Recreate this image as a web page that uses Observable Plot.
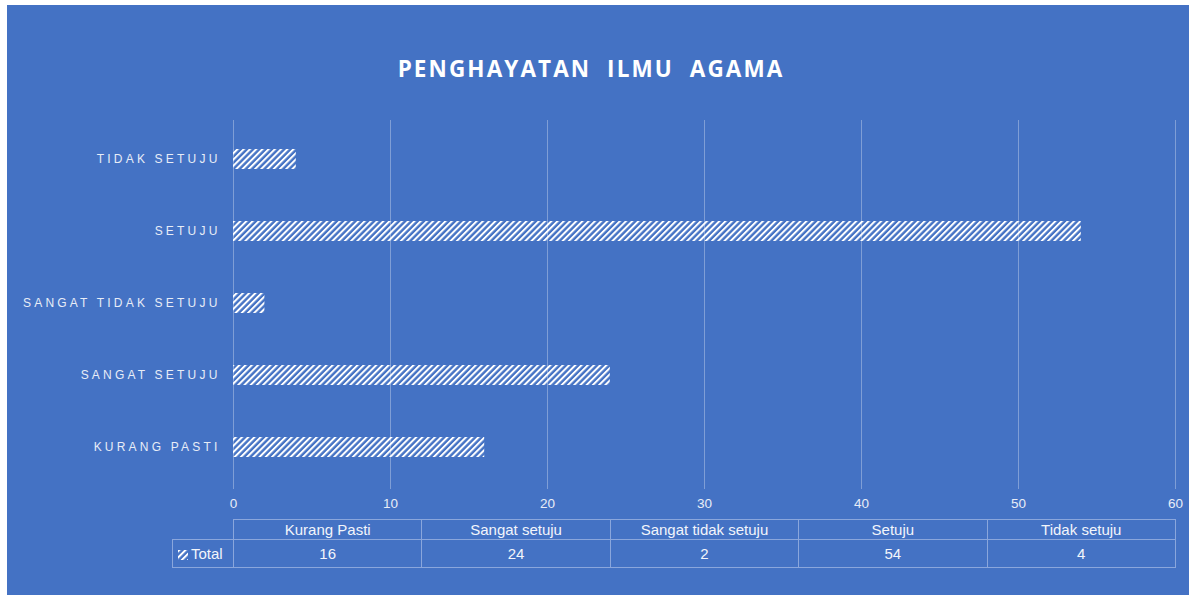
<!DOCTYPE html>
<html>
<head>
<meta charset="utf-8">
<script src="https://cdn.jsdelivr.net/npm/d3@7"></script>
<script src="https://cdn.jsdelivr.net/npm/@observablehq/plot@0.6"></script>
<style>
  html, body { margin: 0; padding: 0; background: #ffffff; }
  #frame { position: absolute; left: 7px; top: 5px; width: 1182px; height: 590px; background: #4472C4; overflow: hidden; font-family: "Liberation Sans", Arial, sans-serif; }
  #title { position: absolute; left: -7px; width: 1182px; top: 48px; text-align: center; color: #ffffff; font-family: "Open Sans", "Liberation Sans", sans-serif; font-weight: bold; font-size: 22.5px; letter-spacing: 2.1px; white-space: pre; }
  #chart { position: absolute; left: 0; top: 0; }
  #chart svg [aria-label="y-axis tick label"] text { letter-spacing: 3.2px; }
  table.dt { position: absolute; border-collapse: collapse; color: #f2f5fb; font-size: 15px; table-layout: fixed; }
  table.dt td { border: 1px solid #8aa6dc; text-align: center; padding: 0; white-space: nowrap; overflow: hidden; }
  table.dt td.empty { border: none; }
</style>
</head>
<body>
<div id="frame">
  <div id="title"></div>
  <div id="chart"></div>
</div>
<script>
const title = "PENGHAYATAN  ILMU  AGAMA";
const categories = ["Kurang Pasti", "Sangat setuju", "Sangat tidak setuju", "Setuju", "Tidak setuju"];
const totals = [16, 24, 2, 54, 4];
const seriesName = "Total";
const xTicks = [0, 10, 20, 30, 40, 50, 60];

const data = categories.map((c, i) => ({category: c, value: totals[i]}));
const yOrder = categories.slice().reverse();

document.getElementById("title").textContent = title;

const W = 1182, H = 500;
const mL = 226, mR = 14, mT = 117, mB = 21;
const plot = Plot.plot({
  width: W,
  height: H,
  marginLeft: mL,
  marginRight: mR,
  marginTop: mT,
  marginBottom: mB,
  style: {background: "transparent", color: "#e8edf7", fontFamily: "Liberation Sans, Arial, sans-serif", fontSize: "12px", overflow: "visible"},
  x: {domain: [0, 60], ticks: xTicks},
  y: {domain: yOrder, paddingInner: 0.72, paddingOuter: 0.36},
  marks: [
    Plot.ruleX(xTicks, {x: d => d, stroke: "#7f9ed6", strokeWidth: 1, insetTop: -2, insetBottom: -5}),
    Plot.barX(data, {y: "category", x: "value", fill: "url(#hatch)", stroke: "none"}),
    Plot.axisX({ticks: xTicks, tickSize: 0, tickPadding: 14, fontSize: 13.5, label: null, stroke: "none"}),
    Plot.axisY({tickSize: 0, tickPadding: 13, fontSize: 12, label: null, tickFormat: d => d.toUpperCase()})
  ]
});

// hatch pattern defs
const svg = plot.tagName.toLowerCase() === "svg" ? plot : plot.querySelector("svg");
const ns = "http://www.w3.org/2000/svg";
const defs = document.createElementNS(ns, "defs");
const pat = document.createElementNS(ns, "pattern");
pat.setAttribute("id", "hatch");
pat.setAttribute("patternUnits", "userSpaceOnUse");
pat.setAttribute("width", "4.4");
pat.setAttribute("height", "4.4");
pat.setAttribute("patternTransform", "rotate(45)");
const r = document.createElementNS(ns, "rect");
r.setAttribute("x", "0"); r.setAttribute("y", "0");
r.setAttribute("width", "2"); r.setAttribute("height", "4.4");
r.setAttribute("fill", "#ffffff");
pat.appendChild(r);
defs.appendChild(pat);
svg.insertBefore(defs, svg.firstChild);

document.getElementById("chart").appendChild(plot);

// data table below the axis
const x0 = mL, x1 = W - mR;
const colW = (x1 - x0) / categories.length;
const legW = 61;
const table = document.createElement("table");
table.className = "dt";
table.style.left = (x0 - legW) + "px";
table.style.top = "514px";
table.style.width = (legW + colW * categories.length) + "px";
const cg = document.createElement("colgroup");
[legW, ...categories.map(() => colW)].forEach(w => { const c = document.createElement("col"); c.style.width = w + "px"; cg.appendChild(c); });
table.appendChild(cg);
const tr1 = document.createElement("tr");
tr1.style.height = "20px";
const e = document.createElement("td"); e.className = "empty"; tr1.appendChild(e);
categories.forEach(c => { const td = document.createElement("td"); td.textContent = c; tr1.appendChild(td); });
const tr2 = document.createElement("tr");
tr2.style.height = "28px";
const lg = document.createElement("td");
lg.style.textAlign = "left";
lg.style.paddingLeft = "5px";
lg.innerHTML = '<svg width="10" height="10" style="vertical-align:-1px;margin-right:3px"><rect width="10" height="10" fill="url(#hatch)"/></svg>' + seriesName;
tr2.appendChild(lg);
totals.forEach(v => { const td = document.createElement("td"); td.textContent = v; tr2.appendChild(td); });
table.appendChild(tr1);
table.appendChild(tr2);
document.getElementById("frame").appendChild(table);
</script>
</body>
</html>
